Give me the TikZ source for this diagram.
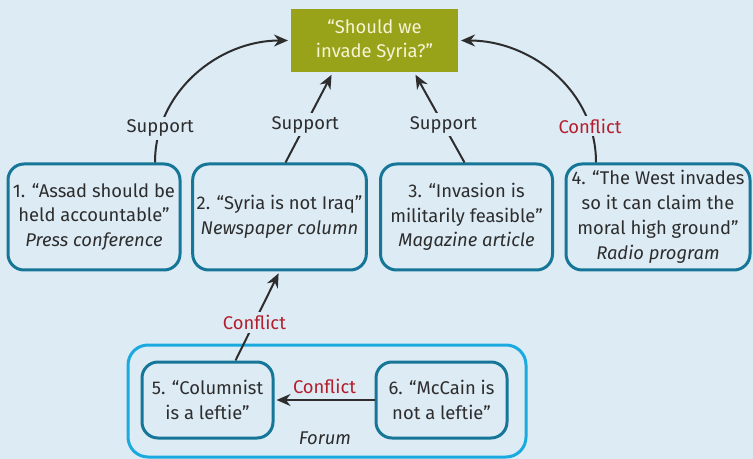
\documentclass[tikz,border=0pt]{standalone}
\usepackage{fontspec}
\setmainfont{Fira Sans}
\usetikzlibrary{arrows.meta}
\usetikzlibrary{positioning}

\definecolor{bg}{RGB}{221,235,245}
\definecolor{boxline}{RGB}{22,118,152}
\definecolor{forumline}{RGB}{26,170,224}
\definecolor{olive}{RGB}{152,163,26}
\definecolor{cream}{RGB}{246,244,214}
\definecolor{conflictred}{RGB}{180,30,45}
\definecolor{txt}{RGB}{45,45,45}

\begin{document}
\begin{tikzpicture}[x=0.5pt,y=-0.5pt,->,>={Stealth[length=7pt,width=6pt]},shorten >=1pt,line width=1pt,draw=txt,
  font=\fontsize{9.2}{12.4}\selectfont,
  claim/.style={draw=boxline,line width=1.5pt,rounded corners=8pt,fill=bg,align=center,text=txt,minimum width=86pt,minimum height=53pt,inner sep=2pt},
  small claim/.style={claim,minimum width=65.5pt,minimum height=38pt},
  question/.style={fill=olive,text=cream,align=center,minimum width=83.5pt,minimum height=31.5pt},
  support/.style={fill=bg,text=txt,inner sep=1.5pt},
  conflict/.style={fill=bg,text=conflictred,inner sep=1.5pt}]

	      \fill[bg,-] (0,0) rectangle (753,459);

	      \node[question] at (374.5,40.5) (q) {“Should we\\invade Syria?"};
	      \node[claim] at (94,217) (c1) {1. “Assad should be\\held accountable"\\\textit{Press conference}};
	      \node[claim] at (279.5,217) (c2) {2. “Syria is not Iraq"\\\textit{Newspaper column}};
	      \node[claim] at (466.5,217) (c3) {3. “Invasion is\\militarily feasible"\\\textit{Magazine article}};
	      \node[claim,minimum width=92pt] at (658,217) (c4) {4. “The West invades\\so it can claim the\\moral high ground"\\\textit{Radio program}};

	      \node[draw=forumline,line width=1.5pt,rounded corners=10pt,minimum width=199pt,minimum height=56pt] at (327,401) (forum) {};
	      \node[text=txt] at (325,438) (forumlbl) {\textit{Forum}};
	      \node[small claim] at (207.5,400) (c5) {5. “Columnist\\is a leftie"};
	      \node[small claim] at (441.5,400) (c6) {6. “McCain is\\not a leftie"};

	      \path
	      ([xshift=30.5pt]c1.north) edge[out=90,in=180] node[support,pos=0.17] {Support} (q.west)
	      ([xshift=3pt]c2.north) edge node[support,pos=0.42] {Support} ([xshift=-21pt]q.south)
	      ([xshift=-1pt]c3.north) edge node[support,pos=0.42] {Support} ([xshift=20pt]q.south)
	      ([xshift=-31pt]c4.north) edge[out=90,in=0] node[conflict,pos=0.18] {Conflict} (q.east)
	      ([xshift=14pt]c5.north) edge node[conflict,pos=0.43] {Conflict} (c2.south)
	      (c6.west) edge node[conflict,above=1pt,fill=none] {Conflict} (c5.east)
	      ;

	    \end{tikzpicture}
\end{document}
